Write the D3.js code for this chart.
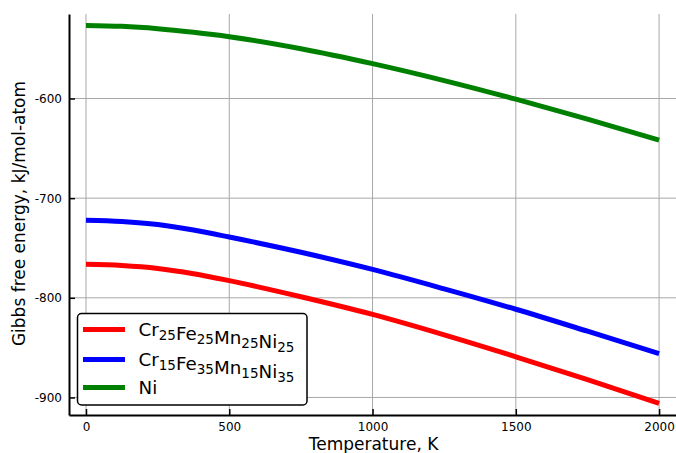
<!DOCTYPE html>
<meta charset="utf-8">
<style>
body { margin: 0; background: #fff; }
text { font-family: "DejaVu Sans", sans-serif; }
.grid line { stroke: #a8a8a8; stroke-width: 1; }
.axis path, .axis line { stroke: #000; }
</style>
<svg width="676" height="453"></svg>
<script src="https://d3js.org/d3.v7.min.js"></script>
<script>

// temperature, K
var temps = [0, 125, 250, 375, 500, 750, 1000, 1250, 1500, 1750, 2000];

// Gibbs free energy, kJ/mol-atom
var cr25 = [-766.4, -767.6, -770.5, -775.8, -782.8, -798.9, -816.7, -837.2, -859.2, -882.2, -906];
var cr15 = [-722.2, -723.5, -726.5, -732, -739, -754.3, -771.5, -791, -811.5, -833.5, -856];
var ni   = [-526.7, -527.6, -530, -533.6, -538, -550, -565, -582, -600.7, -620.7, -641.7];

var xTicks = [0, 500, 1000, 1500, 2000];
var yTicks = [-600, -700, -800, -900];

var series = [
  {name: [["Cr", "25"], ["Fe", "25"], ["Mn", "25"], ["Ni", "25"]], values: cr25, color: "#ff0000"},
  {name: [["Cr", "15"], ["Fe", "35"], ["Mn", "15"], ["Ni", "35"]], values: cr15, color: "#0000ff"},
  {name: [["Ni", ""]], values: ni, color: "#008000"}
];

var svg = d3.select("svg"),
    margin = {top: 14, right: 0, bottom: 38, left: 69},
    width = +svg.attr("width") - margin.left - margin.right,
    height = +svg.attr("height") - margin.top - margin.bottom;

var g = svg.append("g")
    .attr("transform", "translate(" + margin.left + "," + margin.top + ")");

var x = d3.scaleLinear().domain([-59.3, 2059]).range([0, width]);
var y = d3.scaleLinear().domain([-917.6, -515.2]).range([height, 0]);

// grid
g.append("g").attr("class", "grid")
  .selectAll("line").data(xTicks).enter().append("line")
    .attr("x1", function(d) { return x(d); })
    .attr("x2", function(d) { return x(d); })
    .attr("y1", 0).attr("y2", height);

g.append("g").attr("class", "grid")
  .selectAll("line").data(yTicks).enter().append("line")
    .attr("x1", 0).attr("x2", width)
    .attr("y1", function(d) { return y(d); })
    .attr("y2", function(d) { return y(d); });

// curves
var line = d3.line()
    .x(function(d, i) { return x(temps[i]); })
    .y(function(d) { return y(d); })
    .curve(d3.curveMonotoneX);

g.selectAll(".curve").data(series).enter().append("path")
    .attr("class", "curve")
    .attr("d", function(d) { return line(d.values); })
    .style("fill", "none")
    .style("stroke", function(d) { return d.color; })
    .style("stroke-width", 5);

// axes
var plain = function(d) { return String(d); };

var xAxis = g.append("g").attr("class", "axis")
    .attr("transform", "translate(0," + height + ")")
    .call(d3.axisBottom(x).tickValues(xTicks).tickFormat(plain)
      .tickSizeInner(-6).tickSizeOuter(0).tickPadding(7));

var yAxis = g.append("g").attr("class", "axis")
    .call(d3.axisLeft(y).tickValues(yTicks).tickFormat(plain)
      .tickSizeInner(-6).tickSizeOuter(0).tickPadding(7));

[xAxis, yAxis].forEach(function(a) {
  a.select(".domain").style("stroke-width", 2);
  a.selectAll(".tick line").style("stroke-width", 1.5);
  a.selectAll("text").style("font-family", "DejaVu Sans").style("font-size", "12px").attr("fill", "#000");
});

// axis labels
svg.append("text")
    .attr("x", margin.left + x(1000) + 1)
    .attr("y", 449.5)
    .attr("text-anchor", "middle")
    .style("font-size", "17px")
    .text("Temperature, K");

svg.append("text")
    .attr("transform", "translate(25," + 213.5 + ") rotate(-90)")
    .attr("text-anchor", "middle")
    .style("font-size", "17px")
    .text("Gibbs free energy, kJ/mol-atom");

// legend
var legend = svg.append("g").attr("transform", "translate(77.5,313.5)");

legend.append("rect")
    .attr("width", 229.5).attr("height", 91.5)
    .attr("rx", 4)
    .style("fill", "#fff")
    .style("stroke", "#000")
    .style("stroke-width", 1.5);

var rows = legend.selectAll(".row").data(series).enter().append("g")
    .attr("transform", function(d, i) { return "translate(0," + [16, 46, 74][i] + ")"; });

rows.append("line")
    .attr("x1", 5.5).attr("x2", 47.5)
    .style("stroke", function(d) { return d.color; })
    .style("stroke-width", 5);

rows.append("text")
    .attr("x", 61)
    .attr("y", 6.6)
    .style("font-size", "18.3px")
    .each(function(d) {
      var t = d3.select(this);
      d.name.forEach(function(p) {
        t.append("tspan").text(p[0]);
        if (p[1]) {
          t.append("tspan").attr("dy", 4).style("font-size", "13.5px").text(p[1]);
          t.append("tspan").attr("dy", -4).text("");
        }
      });
    });

</script>
